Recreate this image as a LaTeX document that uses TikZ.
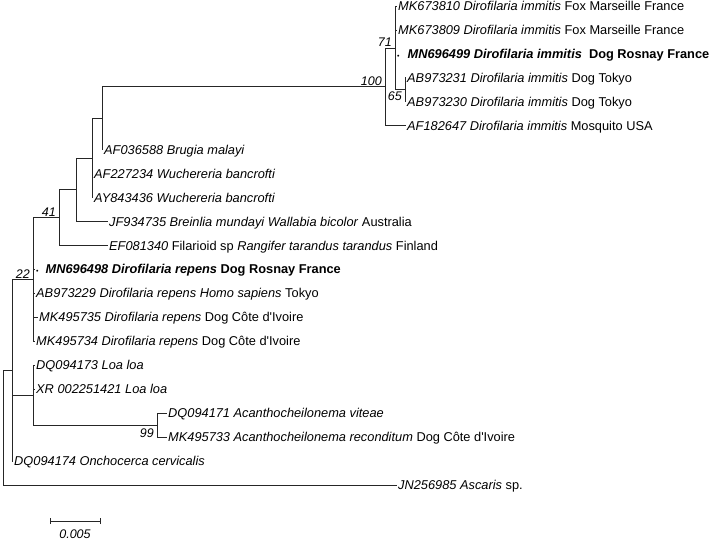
\documentclass[tikz,border=0pt]{standalone}
\usepackage{fontspec}
\setmainfont{Liberation Sans}
\usepackage{tikz}

\begin{document}
\begin{tikzpicture}[x=1pt,y=-1pt]
\tikzstyle{branche}=[line width=0.75pt,black!85]
\tikzset{feuille/.style={anchor=west,inner sep=1pt,text height=9pt,text depth=0pt,
font=\fontsize{12.8}{14}\selectfont},
boot/.style={inner sep=1pt,font=\fontsize{12.5}{14}\selectfont\itshape}}
\useasboundingbox (0,0) rectangle (710,541);

% noeuds internes
\coordinate (R) at (3,427.6);
\coordinate (N12) at (12,370.3);
\coordinate (N22) at (33,279.5);
\coordinate (N41) at (59,217.6);
\coordinate (N76) at (76,189.8);
\coordinate (N92) at (92,158);
\coordinate (N102) at (102,118.3);
\coordinate (N100) at (385,86.8);
\coordinate (N71) at (395,47.9);
\coordinate (N65) at (405,89.8);
\coordinate (NLoa) at (33,395.2);
\coordinate (NAc) at (157,425.1);

% feuilles
\node[feuille] (L1) at (397,6) {\textit{MK673810 Dirofilaria immitis} Fox Marseille France};
\node[feuille] (L2) at (397,29.95) {\textit{MK673809 Dirofilaria immitis} Fox Marseille France};
\node[feuille] (L3) at (396,53.9) {{\scriptsize\textbullet}\hspace{8pt}\textbf{\textit{MN696499 Dirofilaria immitis}\ \ Dog Rosnay France}};
\node[feuille] (L4) at (406,77.85) {\textit{AB973231 Dirofilaria immitis} Dog Tokyo};
\node[feuille] (L5) at (406,101.8) {\textit{AB973230 Dirofilaria immitis} Dog Tokyo};
\node[feuille] (L6) at (406,125.75) {\textit{AF182647 Dirofilaria immitis} Mosquito USA};
\node[feuille] (L7) at (103,149.7) {\textit{AF036588 Brugia malayi}};
\node[feuille] (L8) at (93,173.65) {\textit{AF227234 Wuchereria bancrofti}};
\node[feuille] (L9) at (93,197.6) {\textit{AY843436 Wuchereria bancrofti}};
\node[feuille] (L10) at (108,221.55) {\textit{JF934735 Breinlia mundayi Wallabia bicolor} Australia};
\node[feuille] (L11) at (108,245.5) {\textit{EF081340} Filarioid sp \textit{Rangifer tarandus tarandus} Finland};
\node[feuille] (L12) at (35,269.45) {{\scriptsize\textbullet}\hspace{7pt}\textbf{\textit{MN696498 Dirofilaria repens} Dog Rosnay France}};
\node[feuille] (L13) at (35,293.4) {\textit{AB973229 Dirofilaria repens Homo sapiens} Tokyo};
\node[feuille] (L14) at (38,317.35) {\textit{MK495735 Dirofilaria repens} Dog Côte d\textquotesingle Ivoire};
\node[feuille] (L15) at (35,341.3) {\textit{MK495734 Dirofilaria repens} Dog Côte d\textquotesingle Ivoire};
\node[feuille] (L16) at (35,365.25) {\textit{DQ094173 Loa loa}};
\node[feuille] (L17) at (35,389.2) {\textit{XR 002251421 Loa loa}};
\node[feuille] (L18) at (167,413.15) {\textit{DQ094171 Acanthocheilonema viteae}};
\node[feuille] (L19) at (167,437.1) {\textit{MK495733 Acanthocheilonema reconditum} Dog Côte d\textquotesingle Ivoire};
\node[feuille] (L20) at (13,461.05) {\textit{DQ094174 Onchocerca cervicalis}};
\node[feuille] (L21) at (397,485) {\textit{JN256985 Ascaris} sp.};

% branches
\draw[branche] (R) |- (N12);
\draw[branche] (R) |- (L21.west);
\draw[branche] (N12) |- (N22);
\draw[branche] (N12) |- (NLoa);
\draw[branche] (N12) |- (L20.west);
\draw[branche] (N22) |- (N41);
\draw[branche] (N22) |- (L12.west);
\draw[branche] (N22) |- (L13.west);
\draw[branche] (N22) |- (L14.west);
\draw[branche] (N22) |- (L15.west);
\draw[branche] (N41) |- (N76);
\draw[branche] (N41) |- (L11.west);
\draw[branche] (N76) |- (N92);
\draw[branche] (N76) |- (L10.west);
\draw[branche] (N92) |- (N102);
\draw[branche] (N92) |- (L8.west);
\draw[branche] (N92) |- (L9.west);
\draw[branche] (N102) |- (N100);
\draw[branche] (N102) |- (L7.west);
\draw[branche] (N100) |- (N71);
\draw[branche] (N100) |- (L6.west);
\draw[branche] (N71) |- (L1.west);
\draw[branche] (N71) |- (L2.west);
\draw[branche] (N71) |- (L3.west);
\draw[branche] (N71) |- (N65);
\draw[branche] (N65) |- (L4.west);
\draw[branche] (N65) |- (L5.west);
\draw[branche] (NLoa) |- (L16.west);
\draw[branche] (NLoa) |- (L17.west);
\draw[branche] (NLoa) |- (NAc);
\draw[branche] (NAc) |- (L18.west);
\draw[branche] (NAc) |- (L19.west);

% valeurs de bootstrap
\node[boot,anchor=south east] (B100) at (383,86.8) {100};
\node[boot,anchor=south east] (B71) at (393,47.9) {71};
\node[boot,anchor=north east] (B65) at (403,91) {65};
\node[boot,anchor=south east] (B41) at (57,217.6) {41};
\node[boot,anchor=south east] (B22) at (31,279.5) {22};
\node[boot,anchor=north east] (B99) at (155,428) {99};

% echelle
\coordinate (E1) at (50,521);
\coordinate (E2) at (100,521);
\draw[branche] (E1) -- (E2);
\draw[branche] ([yshift=-3pt]E1) -- ([yshift=3pt]E1);
\draw[branche] ([yshift=-3pt]E2) -- ([yshift=3pt]E2);
\node[boot,anchor=north] (Ech) at (75,529) {0.005};

\end{tikzpicture}
\end{document}
